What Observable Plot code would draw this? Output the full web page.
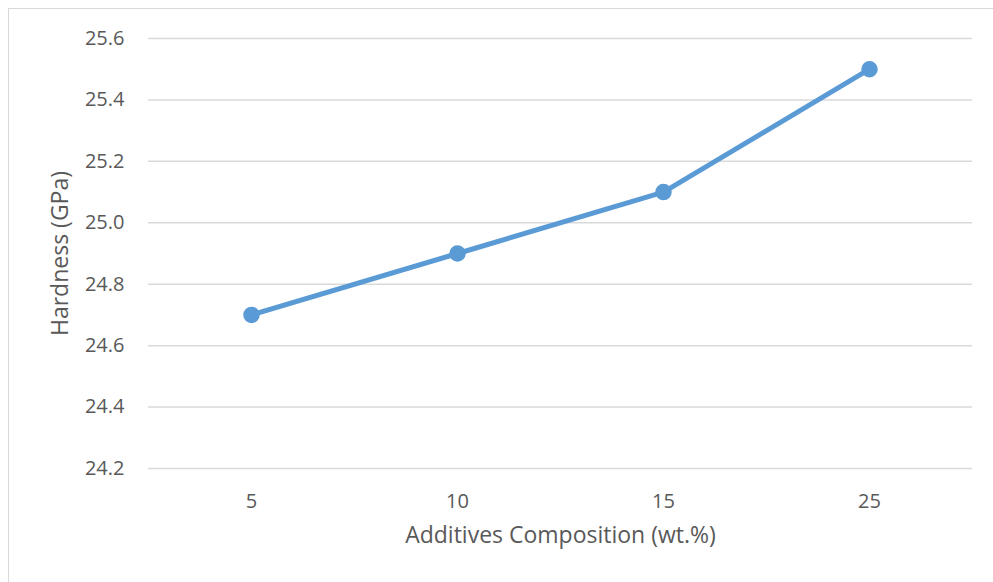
<!DOCTYPE html>
<html>
<head>
<meta charset="utf-8">
<script src="https://cdn.jsdelivr.net/npm/d3@7"></script>
<script src="https://cdn.jsdelivr.net/npm/@observablehq/plot@0.6"></script>
<style>
  html, body { margin: 0; padding: 0; background: #fff; }
  #wrap { position: relative; width: 993px; height: 582px; overflow: hidden; }
  #border { position: absolute; left: 8px; top: 8px; width: 1000px; height: 600px; border: 1.5px solid #d9d9d9; box-sizing: border-box; pointer-events: none; }
</style>
</head>
<body>
<div id="wrap"><div id="border"></div></div>
<script>
const categories = ["5", "10", "15", "25"];
const hardness = [24.7, 24.9, 25.1, 25.5];
const yTicks = [24.2, 24.4, 24.6, 24.8, 25.0, 25.2, 25.4, 25.6];
const xTitle = "Additives Composition (wt.%)";
const yTitle = "Hardness (GPa)";

const data = categories.map((c, i) => ({ c, v: hardness[i] }));
const font = "'Open Sans', sans-serif";

const chart = Plot.plot({
  width: 993,
  height: 582,
  marginLeft: 148,
  marginRight: 21,
  marginTop: 38,
  marginBottom: 114,
  style: { fontFamily: font, background: "transparent", overflow: "visible" },
  x: { type: "point", domain: categories, padding: 0.5, label: null },
  y: { domain: [24.2, 25.6], label: null },
  marks: [
    Plot.gridY(yTicks, { stroke: "#d9d9d9", strokeOpacity: 1, strokeWidth: 1.5 }),
    Plot.axisY(yTicks, { tickSize: 0, tickPadding: 24, tickFormat: d3.format(".1f"), fontSize: 20, fill: "#595959", label: null }),
    Plot.axisX(categories, { tickSize: 0, tickPadding: 25, fontSize: 20, fill: "#595959", label: null }),
    Plot.line(data, { x: "c", y: "v", stroke: "#5b9bd5", strokeWidth: 5, strokeLinejoin: "round", strokeLinecap: "round" }),
    Plot.dot(data, { x: "c", y: "v", r: 7.5, fill: "#5b9bd5", stroke: "#5b9bd5" }),
    Plot.text([xTitle], { frameAnchor: "bottom", lineAnchor: "middle", dy: 67, fontSize: 23, fill: "#595959", fontFamily: font }),
    Plot.text([yTitle], { frameAnchor: "left", textAnchor: "middle", lineAnchor: "middle", dx: -88, rotate: -90, fontSize: 23, fill: "#595959", fontFamily: font })
  ]
});
chart.style.position = "absolute";
chart.style.left = "0";
chart.style.top = "0";
document.getElementById("wrap").appendChild(chart);
</script>
</body>
</html>
